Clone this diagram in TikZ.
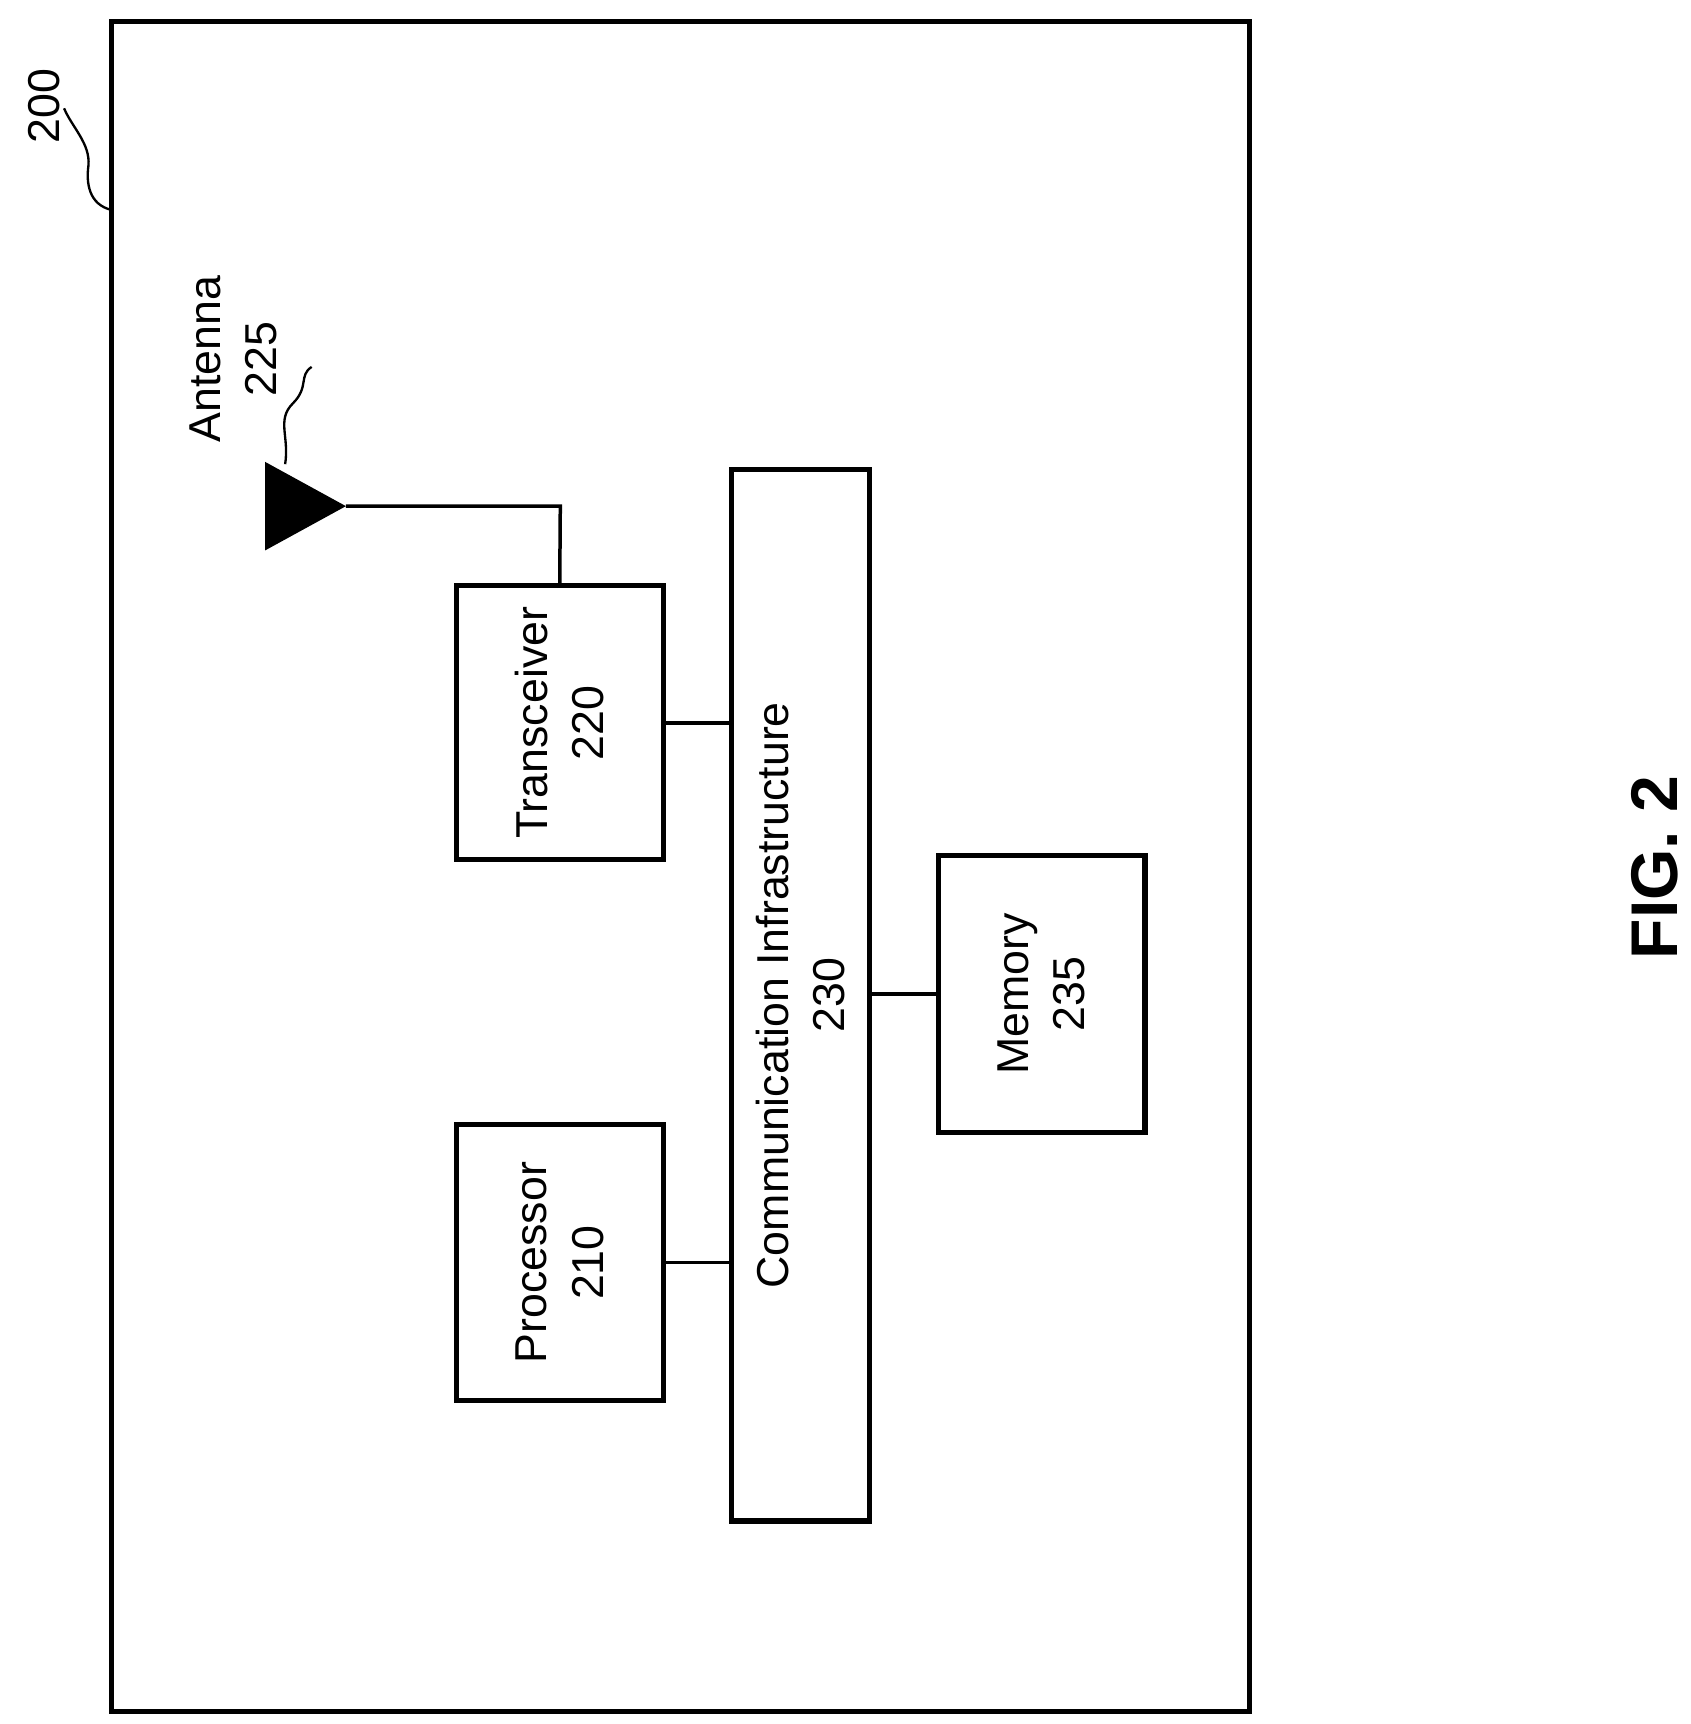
\documentclass[tikz,border=0pt]{standalone}
\usepackage{fontspec}
\setmainfont{Liberation Sans}
\begin{document}
\begin{tikzpicture}[x=0.01cm,y=-0.01cm,line width=0.9pt,
  box/.style={draw,line width=1.3pt,inner sep=0pt},
  lbl/.style={rotate=90,align=center,font=\fontsize{11.5}{14.5}\selectfont}]
\useasboundingbox (0,0) rectangle (1530,1560);
\node[box,minimum width=1029\pgflinewidth*0+10.29cm,minimum height=15.28cm] (outer) at (615.5,784) {};
\node[box,minimum width=1.87cm,minimum height=2.48cm] (trx) at (506.5,654) {};
\node[lbl] at (trx) {Transceiver\\220};
\node[box,minimum width=1.87cm,minimum height=2.49cm] (proc) at (506.5,1142.5) {};
\node[lbl] at (proc) {Processor\\210};
\node[box,minimum width=1.25cm,minimum height=9.51cm] (comm) at (724.5,900.5) {};
\node[lbl] at (comm) {Communication Infrastructure\\230};
\node[box,minimum width=1.87cm,minimum height=2.51cm] (mem) at (942.5,899.5) {};
\node[lbl] at (mem) {Memory\\235};
\fill (240,418) -- (313,458) -- (240,498) -- cycle;
\coordinate (ant) at (313,458);
\draw (ant) -- (507,458) -- (trx.north);
\draw (trx.east) -- (trx.east -| comm.west);
\draw (proc.east) -- (proc.east -| comm.west);
\draw (comm.east |- mem.west) -- (mem.west);
\node[lbl] (antl) at (211,325) {Antenna\\225};
\draw[line width=0.6pt] (258,420) .. controls (262,395) and (250,380) .. (265,365) .. controls (280,350) and (270,340) .. (282,332);
\node[lbl] (l200) at (40,96) {200};
\draw[line width=0.6pt] (101,190) .. controls (80,185) and (78,165) .. (80,150) .. controls (82,130) and (65,115) .. (58,98);
\node[rotate=90,font=\fontsize{17}{20}\selectfont\bfseries] (fig) at (1497,785) {FIG. 2};
\end{tikzpicture}
\end{document}
